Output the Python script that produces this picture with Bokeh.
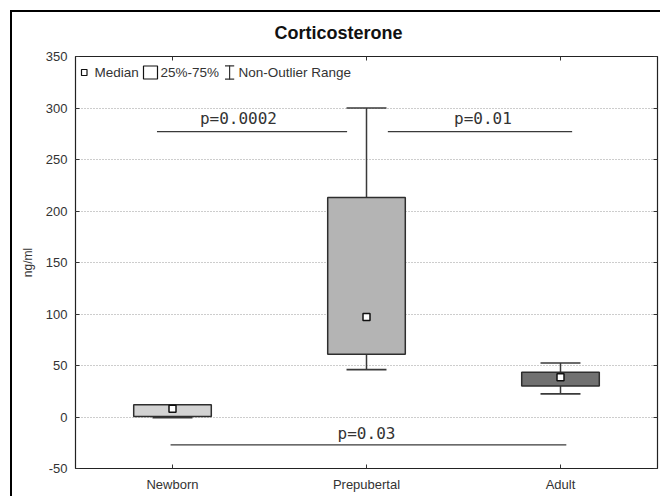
from bokeh.plotting import figure
from bokeh.models import (ColumnDataSource, FixedTicker, LinearAxis, Label,
                          BoxAnnotation, Range1d)
from bokeh.core.properties import value
from bokeh.embed import file_html
from bokeh.resources import INLINE

# ---- data ----
groups = ["Newborn", "Prepubertal", "Adult"]
q1 = [0.5, 61, 30]
q3 = [12, 213, 43.5]
medians = [8, 97, 38.5]
whisk_lo = [-0.5, 46, 22.5]
whisk_hi = [12, 300, 52.5]
box_colors = ["#d3d3d3", "#b4b4b4", "#707070"]

sig_labels = ["p=0.0002", "p=0.01", "p=0.03"]
sig_x0 = [0.42, 1.61, 0.49]
sig_x1 = [1.40, 2.56, 2.53]
sig_y = [277, 277, -27]
sig_text_x = [0.84, 2.10, 1.50]
sig_text_y = [290, 290, -16]

y_ticks = [-50, 0, 50, 100, 150, 200, 250, 300, 350]
y_tick_labels = ["-50", "0", "50", "100", "150", "200", "250", "300", "350"]

# ---- derived ----
xpos = [i + 0.5 for i in range(len(groups))]
box_w = 0.40
cap_w = 0.103

src = ColumnDataSource(dict(
    x=xpos, q1=q1, q3=q3, med=medians, lo=whisk_lo, hi=whisk_hi,
    color=box_colors,
    cx0=[x - cap_w for x in xpos], cx1=[x + cap_w for x in xpos],
))
sig_src = ColumnDataSource(dict(x0=sig_x0, x1=sig_x1, y=sig_y,
                                tx=sig_text_x, ty=sig_text_y, t=sig_labels))

FONT = "Liberation Sans"
DARK = "#333333"

p = figure(width=660, height=496, output_backend="svg", toolbar_location=None,
           x_range=Range1d(0, 3), y_range=Range1d(-50, 350),
           min_border_left=75, min_border_right=3, min_border_top=56,
           min_border_bottom=28, tools="",
           styles={"box-shadow": "inset 10px 10px 0 0 white, inset 12px 12px 0 0 black"})

p.title.text = "Corticosterone"
p.title.align = "left"
p.title.offset = 199
p.title.text_font = FONT
p.title.text_font_size = "18px"
p.title.text_font_style = "bold"
p.title.text_color = "#111111"
p.title.standoff = 28

p.background_fill_color = "white"
p.border_fill_alpha = 0
p.outline_line_color = "#222222"
p.outline_line_width = 1.2

p.xgrid.visible = False
p.ygrid.ticker = FixedTicker(ticks=y_ticks)
p.ygrid.grid_line_color = "#9a9a9a"
p.ygrid.grid_line_dash = "1 2"
p.ygrid.grid_line_width = 1

# left axis
ya = p.yaxis[0]
ya.ticker = FixedTicker(ticks=y_ticks)
ya.major_label_overrides = {t: s for t, s in zip(y_ticks, y_tick_labels)}
ya.axis_line_color = None
ya.major_tick_in = 4
ya.major_tick_out = 0
ya.major_tick_line_color = DARK
ya.minor_tick_line_color = None
ya.major_label_standoff = 8
ya.major_label_text_font = FONT
ya.major_label_text_font_size = "13px"
ya.major_label_text_color = DARK
ya.axis_label = "ng/ml"
ya.axis_label_text_font = FONT
ya.axis_label_text_font_size = "12px"
ya.axis_label_text_font_style = "normal"
ya.axis_label_text_color = DARK
ya.axis_label_standoff = 8

# bottom axis
xa = p.xaxis[0]
xa.ticker = FixedTicker(ticks=xpos)
xa.major_label_overrides = {x: g for x, g in zip(xpos, groups)}
xa.axis_line_color = None
xa.major_tick_in = 4
xa.major_tick_out = 0
xa.major_tick_line_color = DARK
xa.minor_tick_line_color = None
xa.major_label_standoff = 8
xa.major_label_text_font = FONT
xa.major_label_text_font_size = "13px"
xa.major_label_text_color = DARK

# mirrored tick-only axes
ra = LinearAxis(ticker=FixedTicker(ticks=y_ticks),
                major_label_overrides={t: "" for t in y_ticks})
ta = LinearAxis(ticker=FixedTicker(ticks=xpos),
                major_label_overrides={t: "" for t in xpos})
for ax in (ra, ta):
    ax.axis_line_color = None
    ax.major_tick_in = 4
    ax.major_tick_out = 0
    ax.major_tick_line_color = DARK
    ax.minor_tick_line_color = None
    ax.major_label_standoff = 0
    ax.major_label_text_font_size = "0px"
p.add_layout(ra, "right")
p.add_layout(ta, "above")

# whisker stems and caps
p.segment(x0="x", x1="x", y0="q3", y1="hi", source=src, line_color="#3a3a3a", line_width=1.5)
p.segment(x0="x", x1="x", y0="q1", y1="lo", source=src, line_color="#3a3a3a", line_width=1.5)
p.segment(x0="cx0", x1="cx1", y0="hi", y1="hi", source=src, line_color="#3a3a3a", line_width=1.5)
p.segment(x0="cx0", x1="cx1", y0="lo", y1="lo", source=src, line_color="#3a3a3a", line_width=1.8)

# boxes
p.vbar(x="x", width=box_w, bottom="q1", top="q3", source=src,
       fill_color="color", line_color="#2e2e2e", line_width=1.5)

# medians
p.scatter(x="x", y="med", source=src, marker="square", size=7,
          fill_color="white", line_color="#111111", line_width=1.5)

# significance bars
p.segment(x0="x0", x1="x1", y0="y", y1="y", source=sig_src,
          line_color="#3a3a3a", line_width=1.3)
p.text(x="tx", y="ty", text="t", source=sig_src, text_align="center",
       text_baseline="middle", text_font=value("DejaVu Sans Mono"),
       text_font_size="16px", text_color=DARK)


# legend (screen units, relative to frame)
def legend_box(left, right, bottom, top, fill="white", line="#111111"):
    return BoxAnnotation(left=left, right=right, bottom=bottom, top=top,
                         left_units="screen", right_units="screen",
                         top_units="screen", bottom_units="screen",
                         fill_color=fill, fill_alpha=1,
                         line_color=line, line_alpha=1, line_width=1.2)


leg_y = 396
p.add_layout(legend_box(6, 11.5, leg_y - 3, leg_y + 3))
p.add_layout(legend_box(68, 82, leg_y - 6.5, leg_y + 6.5))
# I-beam symbol (stem + two caps)
p.add_layout(legend_box(153.5, 154.7, leg_y - 7, leg_y + 7, fill=DARK, line=None))
p.add_layout(legend_box(149.5, 158.7, leg_y + 6, leg_y + 7.2, fill=DARK, line=None))
p.add_layout(legend_box(149.5, 158.7, leg_y - 7.2, leg_y - 6, fill=DARK, line=None))
for txt, lx in [("Median", 19), ("25%-75%", 85), ("Non-Outlier Range", 163)]:
    p.add_layout(Label(x=lx, y=leg_y, x_units="screen", y_units="screen",
                       text=txt, text_font=FONT, text_font_size="13.5px",
                       text_color=DARK, text_baseline="middle", text_align="left"))

open("out.html", "w").write(file_html(p, INLINE))
